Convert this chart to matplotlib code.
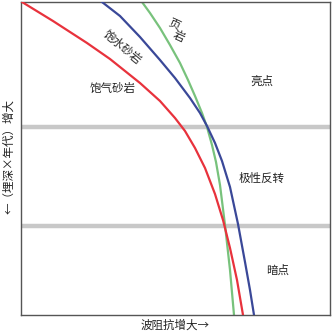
import matplotlib
matplotlib.use("Agg")
import matplotlib.pyplot as plt

plt.rcParams['font.family'] = ['Noto Sans CJK SC', 'DejaVu Sans']

# Curves (x: impedance, y: depth×age, arbitrary units; y grows downward)
gas_x = [22, 53, 87, 110, 140, 160, 175, 185, 195, 205, 215, 223, 230, 237, 243]
gas_y = [2, 21, 43, 59, 83, 101, 118, 131, 148, 168, 194, 220, 248, 280, 315]
water_x = [102, 120, 140, 160, 175, 190, 200, 207, 215, 222, 230, 238, 245, 250, 254]
water_y = [2, 16, 37, 60, 78, 98, 113, 126, 143, 161, 187, 224, 262, 290, 315]
shale_x = [142, 150, 160, 170, 180, 188, 195, 202, 207, 212, 216, 220, 225, 230, 234]
shale_y = [2, 13, 28, 45, 63, 80, 96, 113, 127, 145, 162, 185, 225, 270, 315]
boundaries = [127, 226]

fig = plt.figure(figsize=(3.34, 3.32), dpi=100)
ax = fig.add_axes([21/334, 17/332, 309/334, 313/332])
ax.set_xlim(21, 330)
ax.set_ylim(315, 2)

for yb in boundaries:
    ax.axhline(yb, color='#c8c8c8', lw=3.2, zorder=1)

ax.plot(gas_x, gas_y, color='#e8323c', lw=1.6, zorder=3)
ax.plot(water_x, water_y, color='#3a4898', lw=1.6, zorder=3)
ax.plot(shale_x, shale_y, color='#78c27c', lw=1.6, zorder=2)

fs = 8.3
tc = '#222222'
ax.text(175, 23, '页', fontsize=fs, rotation=-25, ha='center', va='center', color=tc)
ax.text(179, 36, '岩', fontsize=fs, rotation=-25, ha='center', va='center', color=tc)
ax.text(122, 47, '饱水砂岩', fontsize=fs, rotation=-40, ha='center', va='center', color=tc)
ax.text(113, 88, '饱气砂岩', fontsize=fs, ha='center', va='center', color=tc)
ax.text(262, 81, '亮点', fontsize=fs, ha='center', va='center', color=tc)
ax.text(262, 178, '极性反转', fontsize=fs, ha='center', va='center', color=tc)
ax.text(278, 270, '暗点', fontsize=fs, ha='center', va='center', color=tc)

ax.set_xticks([])
ax.set_yticks([])
for s in ax.spines.values():
    s.set_color('#555555')
    s.set_linewidth(1.0)

fig.text(175/334, 1 - 325/332, '波阻抗增大→', fontsize=fs, ha='center', va='center', color=tc)
fig.text(9/334, 1 - 157/332, '←（埋深×年代）增大', fontsize=fs, rotation=90, ha='center', va='center', color=tc)

fig.savefig('out.png', dpi=100)
